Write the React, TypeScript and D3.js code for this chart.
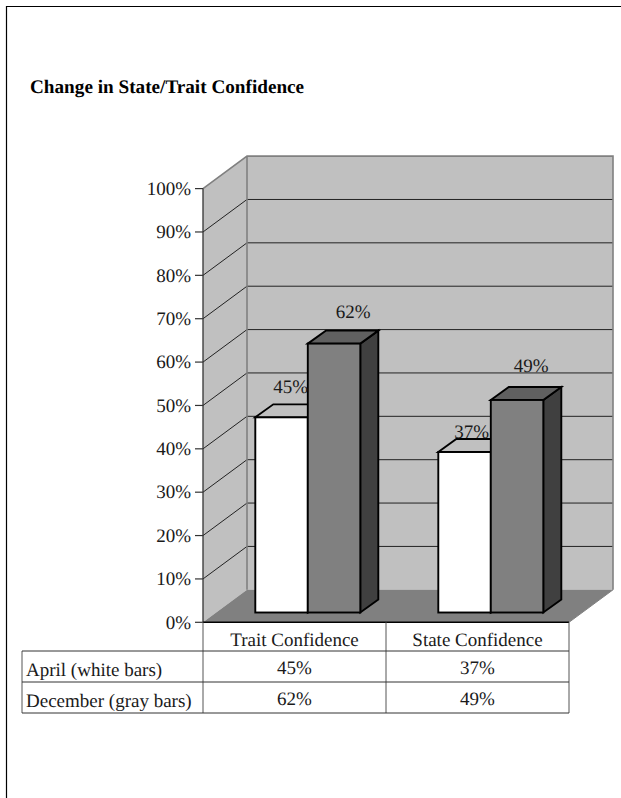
import React from "react";
import * as d3 from "d3";

const chartTitle = "Change in State/Trait Confidence";
const categories = ["Trait Confidence", "State Confidence"];
const seriesNames = ["April (white bars)", "December (gray bars)"];
const aprilValues = [45, 37];
const decemberValues = [62, 49];
const percentTicks = [0, 10, 20, 30, 40, 50, 60, 70, 80, 90, 100];

// Layout of the oblique projection
const W = 621;
const H = 798;
const depthX = 44;
const depthY = -32.5;
const barDepthX = 18;
const barDepthY = -13;
const frontLeft = 203;
const frontRight = 569;
const frontBase = 622.3;
const frontTop = 188.6;
const barBase = 612.5;
const serif = "'Liberation Serif', 'Times New Roman', serif";
const ink = "#1a1a1a";
const textSize = 19;

// Data label nudges relative to each bar's front face: [dx, dy] by series then category
const labelNudge = [
  [[9, -24], [7, -14]],
  [[19, -26], [14, -28]],
];

const axisY = d3.scaleLinear().domain([0, 100]).range([frontBase, frontTop]);
const barHeight = d3.scaleLinear().domain([0, 100]).range([0, frontBase - frontTop]);
const groupX = d3.scaleBand<string>().domain(categories).range([frontLeft, frontRight]);

function pts(list: [number, number][]) {
  return list.map((p) => p.join(",")).join(" ");
}

function Bar({ x, w, value, front, top, side }: { x: number; w: number; value: number; front: string; top: string; side: string }) {
  const yTop = barBase - barHeight(value);
  const dx = barDepthX;
  const dy = barDepthY;
  const stroke = { stroke: "#000", strokeWidth: 1.9, strokeLinejoin: "miter" as const };
  return (
    <g>
      <polygon points={pts([[x + w, yTop], [x + w + dx, yTop + dy], [x + w + dx, barBase + dy], [x + w, barBase]])} fill={side} {...stroke} />
      <polygon points={pts([[x, yTop], [x + dx, yTop + dy], [x + w + dx, yTop + dy], [x + w, yTop]])} fill={top} {...stroke} />
      <rect x={x} y={yTop} width={w} height={barBase - yTop} fill={front} {...stroke} />
    </g>
  );
}

export default function App() {
  const backLeft = frontLeft + depthX;
  const backRight = frontRight + depthX;
  const series = [aprilValues, decemberValues];
  const barW = 52.5;
  const firstBarInset = 52.3;
  const rowTop = 651;
  const rowH = 31;
  const tableLeft = 22;
  const midCol = groupX(categories[1]) as number;
  const cx = (i: number) => (groupX(categories[i]) as number) + groupX.bandwidth() / 2;
  const label = { fontFamily: serif, fontSize: textSize, fill: ink, textRendering: "geometricPrecision" as const };

  return (
    <svg width={W} height={H} viewBox={`0 0 ${W} ${H}`} style={{ position: "absolute", left: 0, top: 0, background: "#fff" }}>
      {/* page frame: top and left edges only */}
      <path d={`M${W},6.5 H6.5 V${H}`} fill="none" stroke="#000" strokeWidth={1.2} />
      <text x={30} y={92.6} fontFamily={serif} fontWeight="bold" fontSize={19.2} fill="#000" textRendering="geometricPrecision">{chartTitle}</text>

      {/* walls and floor */}
      <polygon points={pts([[frontLeft, axisY(100)], [backLeft, axisY(100) + depthY], [backLeft, frontBase + depthY], [frontLeft, frontBase]])} fill="#c0c0c0" />
      <rect x={backLeft} y={axisY(100) + depthY} width={backRight - backLeft} height={frontBase - axisY(100)} fill="#c0c0c0" />
      <polygon points={pts([[frontLeft, frontBase], [backLeft, frontBase + depthY], [backRight, frontBase + depthY], [frontRight, frontBase]])} fill="#808080" />

      {/* gridlines on the side and back walls */}
      {percentTicks.filter((t) => t > 0 && t < 100).map((t) => (
        <path key={t} d={`M${frontLeft},${axisY(t)} L${backLeft},${axisY(t) + depthY} H${backRight}`} fill="none" stroke="#222" strokeWidth={1} />
      ))}

      {/* wall outlines */}
      <path d={`M${frontLeft},${axisY(100)} L${backLeft},${axisY(100) + depthY} H${backRight} V${frontBase + depthY} M${backLeft},${axisY(100) + depthY} V${frontBase + depthY}`} fill="none" stroke="#808080" strokeWidth={1.6} />
      <path d={`M${backRight},${frontBase + depthY} L${frontRight},${frontBase}`} fill="none" stroke="#808080" strokeWidth={1} />

      {/* value axis */}
      <line x1={frontLeft} x2={frontLeft} y1={axisY(100)} y2={frontBase} stroke="#333" strokeWidth={1.3} />
      {percentTicks.map((t) => (
        <g key={t}>
          <line x1={frontLeft - 8} x2={frontLeft} y1={axisY(t)} y2={axisY(t)} stroke="#333" strokeWidth={1.2} />
          <text x={frontLeft - 12} y={axisY(t) + 6.2} textAnchor="end" {...label}>{t}%</text>
        </g>
      ))}

      {/* bars */}
      {categories.map((c, i) => {
        const x0 = (groupX(c) as number) + firstBarInset;
        return (
          <g key={c}>
            <Bar x={x0} w={barW} value={aprilValues[i]} front="#fff" top="#c0c0c0" side="#808080" />
            <Bar x={x0 + barW} w={barW} value={decemberValues[i]} front="#808080" top="#606060" side="#404040" />
          </g>
        );
      })}

      {/* data labels */}
      {categories.map((c, i) =>
        series.map((vals, s) => {
          const x0 = (groupX(c) as number) + firstBarInset + s * barW + barW / 2;
          const yTop = barBase - barHeight(vals[i]);
          const [nx, ny] = labelNudge[s][i];
          return (
            <text key={`${c}-${s}`} x={x0 + nx} y={yTop + ny} textAnchor="middle" {...label}>{vals[i]}%</text>
          );
        })
      )}

      {/* data table */}
      <g fill="none" strokeWidth={1}>
        <path d={`M${frontLeft},${frontBase} H${frontRight}`} stroke="#000" strokeWidth={1.4} />
        <path d={`M${frontLeft},${frontBase} V${rowTop + 2 * rowH} M${midCol},${frontBase} V${rowTop + 2 * rowH} M${frontRight},${frontBase} V${rowTop + 2 * rowH} M${tableLeft},${rowTop} V${rowTop + 2 * rowH}`} stroke="#555" />
        <path d={`M${tableLeft},${rowTop} H${frontRight} M${tableLeft},${rowTop + rowH} H${frontRight} M${tableLeft},${rowTop + 2 * rowH} H${frontRight}`} stroke="#333" />
      </g>
      {categories.map((c, i) => (
        <text key={c} x={cx(i)} y={646} textAnchor="middle" {...label}>{c}</text>
      ))}
      {seriesNames.map((name, r) => (
        <g key={name}>
          <text x={26} y={rowTop + rowH * r + 24.7} {...label}>{name}</text>
          {series[r].map((v, i) => (
            <text key={i} x={cx(i)} y={rowTop + rowH * r + 23} textAnchor="middle" {...label}>{v}%</text>
          ))}
        </g>
      ))}
    </svg>
  );
}
